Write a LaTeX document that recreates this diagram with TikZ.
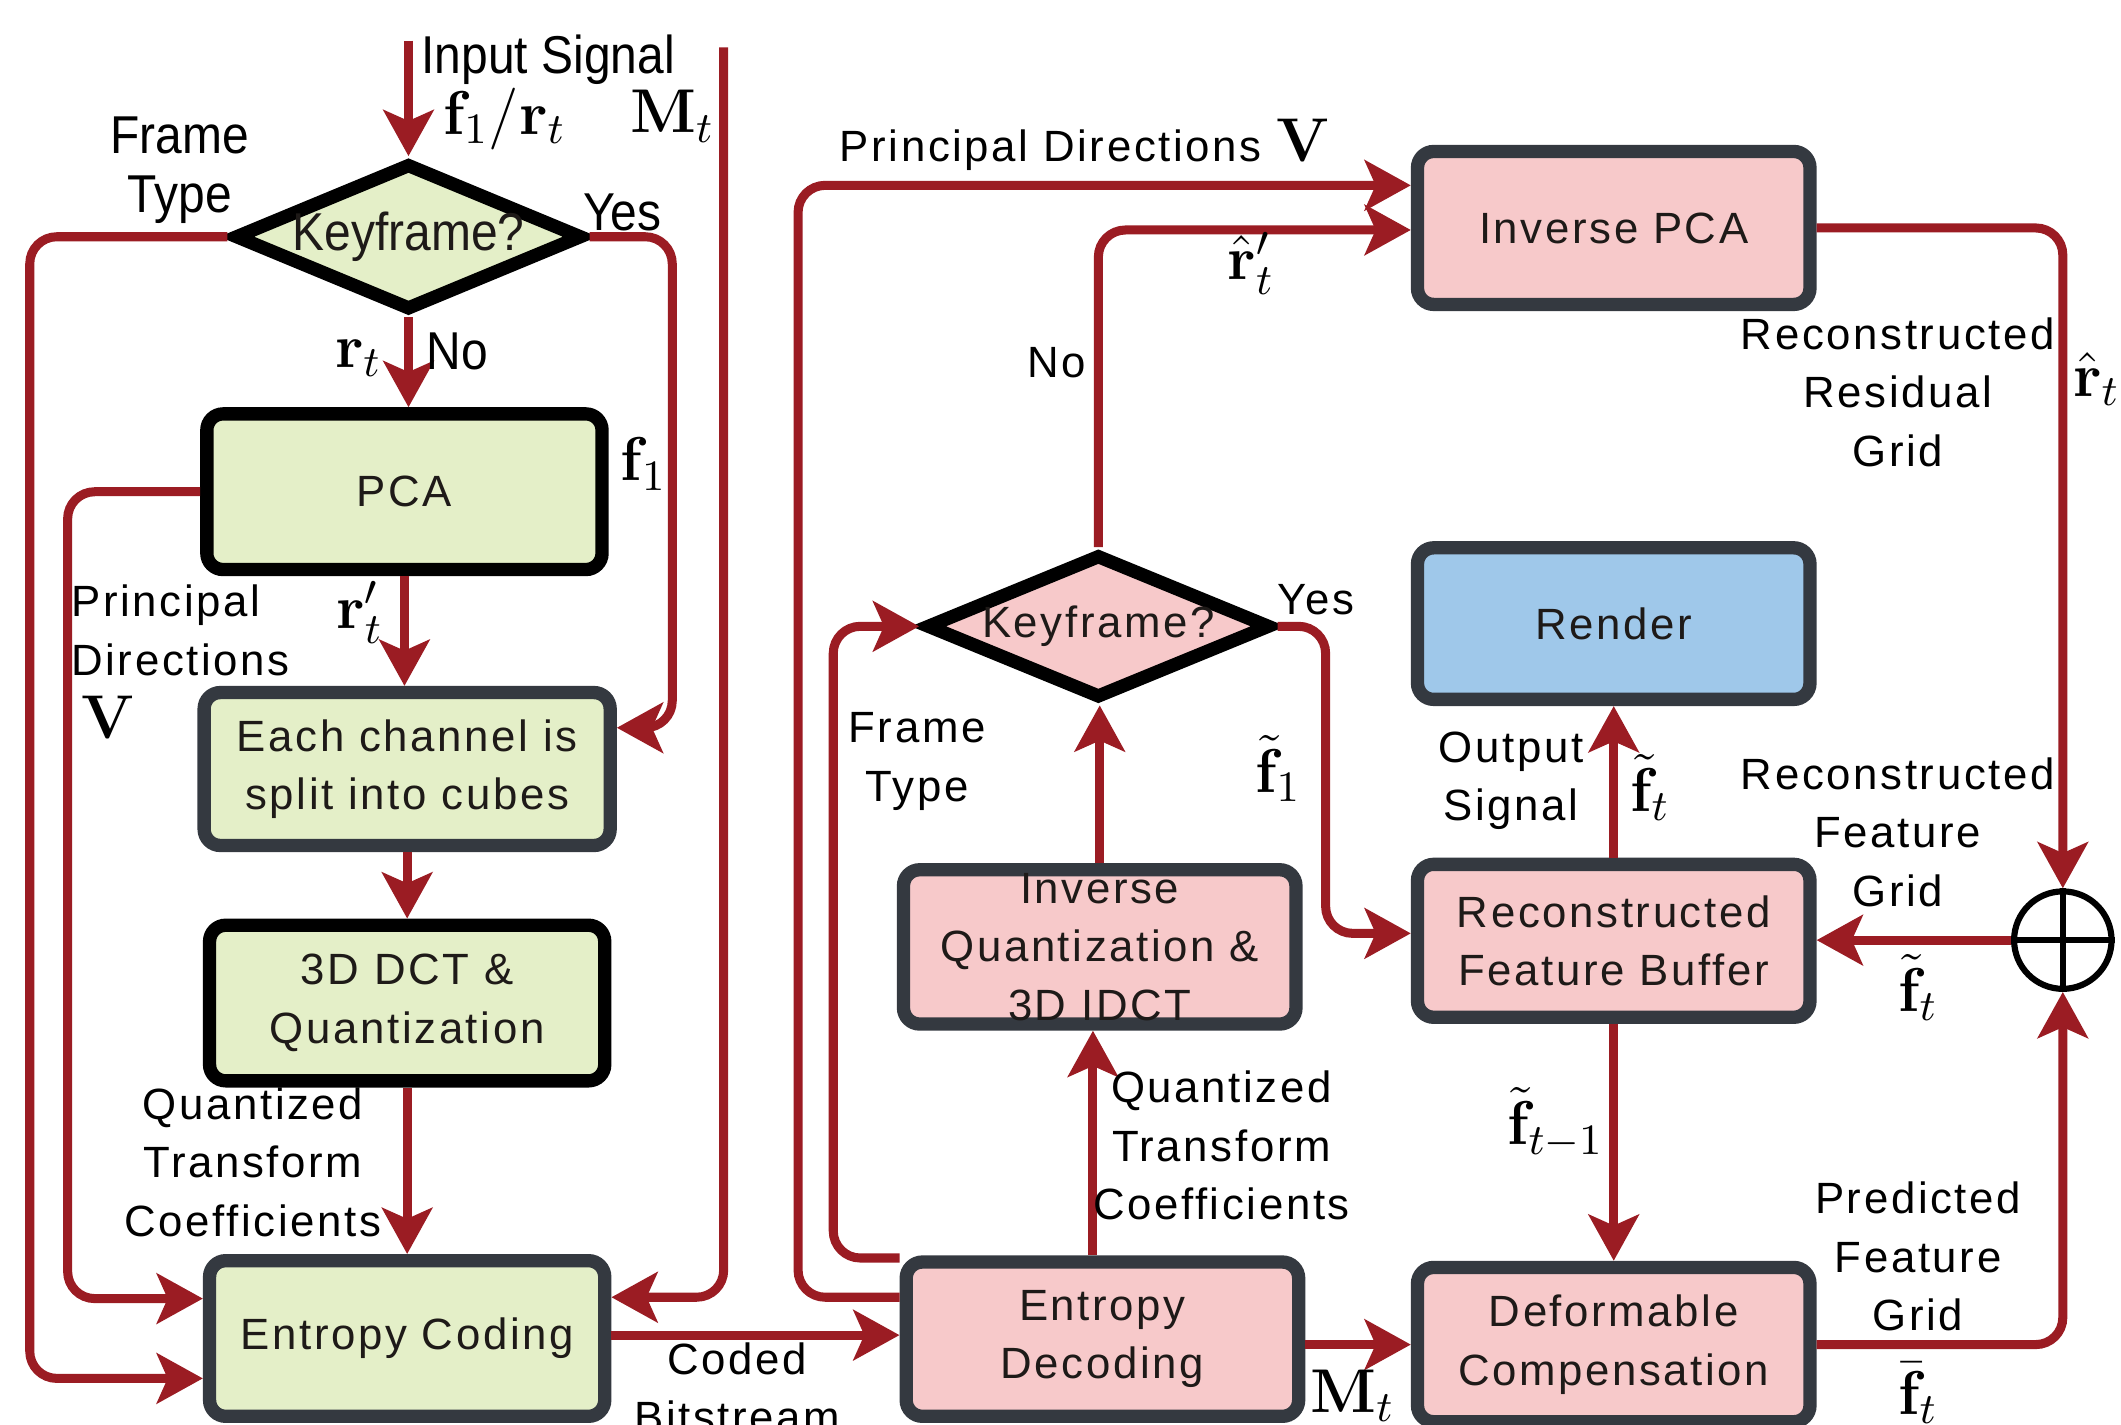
\RequirePackage{fix-cm}
\documentclass[tikz,border=0pt]{standalone}
\usepackage[no-math]{fontspec}
\usetikzlibrary{arrows.meta,shapes.geometric}
\newfontfamily\lblfont{Liberation Sans}[LetterSpace=6]
\newfontfamily\narrowfont{Liberation Sans}[FakeStretch=0.9]
\newcommand\bxf{\lblfont\fontsize{9.2}{12.3}\selectfont}
\newcommand\nrf{\narrowfont\fontsize{11.2}{12.5}\selectfont}
\newcommand\mathlbl{\fontsize{13}{15}\selectfont}
\definecolor{cred}{HTML}{9B1C23}
\definecolor{cgreen}{HTML}{E4EFC8}
\definecolor{cpink}{HTML}{F7C9CA}
\definecolor{cblue}{HTML}{9FC8EA}
\definecolor{cgray}{HTML}{343940}
\definecolor{ctext}{HTML}{1E1A18}
\tikzset{
  box/.style={rectangle, rounded corners=0.12cm, line width=2.8pt, minimum width=2.92cm,
    minimum height=1.15cm, align=center, font=\bxf, text=ctext, inner sep=0pt},
  gbox/.style={box, fill=cgreen, draw=cgray},
  kbox/.style={box, fill=cgreen, draw=black},
  pbox/.style={box, fill=cpink, draw=cgray},
  bbox/.style={box, fill=cblue, draw=cgray},
  dia/.style={diamond, draw=black, line width=2.8pt, inner sep=0pt, text=ctext},
  arr/.style={draw=cred, line width=1.9pt, rounded corners=0.2cm,
    -{Stealth[length=0.34cm,width=0.37cm,inset=0.08cm]}},
  lbl/.style={font=\bxf, align=center, inner sep=0pt, text=black},
  nlbl/.style={font=\nrf, align=center, inner sep=0pt, text=black},
  mlbl/.style={font=\mathlbl, inner sep=0pt, text=black},
}
\begin{document}
\begin{tikzpicture}[x=0.01cm,y=-0.01cm]
\path[use as bounding box] (0,0) rectangle (1568,1053);
\clip (0,0) rectangle (1568,1053);

% ---------------- encoder (left) ----------------
\node[dia, fill=cgreen, minimum width=2.5cm, minimum height=1.06cm, aspect=2.36, font=\nrf] (d1) at (302,175) {Keyframe?};
\node[kbox] (pca) at (299,363.5) {PCA};
\node[gbox, minimum width=3.0cm, minimum height=1.13cm] (split) at (301,568.5) {Each channel is\\split into cubes};
\node[kbox] (dct) at (301,741.5) {3D DCT \&\\Quantization};
\node[gbox] (ec) at (301,989.5) {Entropy Coding};

% ---------------- decoder (right) ----------------
\node[pbox, minimum width=2.9cm, minimum height=1.14cm] (ed) at (815,990) {Entropy\\Decoding};
\node[pbox, minimum width=2.9cm, minimum height=1.14cm] (iq) at (813,700) {Inverse\\Quantization \&\\3D IDCT};
\node[dia, fill=cpink, minimum width=2.55cm, minimum height=1.07cm, aspect=2.38, font=\bxf] (d2) at (812,463) {Keyframe?};
\node[pbox, minimum width=2.9cm, minimum height=1.13cm] (ipca) at (1193,168.5) {Inverse PCA};
\node[bbox, minimum width=2.9cm, minimum height=1.12cm] (render) at (1193,461) {Render};
\node[pbox, minimum width=2.9cm, minimum height=1.13cm] (rfb) at (1193,695.5) {Reconstructed\\Feature Buffer};
\node[pbox, minimum width=2.9cm, minimum height=1.14cm] (dc) at (1193,994) {Deformable\\Compensation};
\node[circle, draw=black, line width=1.3pt, minimum size=0.72cm, inner sep=0pt, fill=white] (sum) at (1525,695) {};
\draw[black, line width=1.3pt] (sum.north) -- (sum.south) (sum.west) -- (sum.east);

% ---------------- connectors: encoder ----------------
\coordinate (in) at (302,30);
\coordinate (mt) at (535,35);
\draw[arr] (in) -- (d1.north);
\draw[arr] (mt) -- (535,959) -- (ec.east |- 535,959);
\draw[arr] (d1.west) -| (22,1019) -- (ec.west |- 22,1019);
\draw[arr] (d1.east) -| (497,538) -- (split.east |- 497,538);
\draw[arr] (d1.south) -- (d1.south |- pca.north);
\draw[arr] (pca.west) -| (50,960) -- (ec.west |- 50,960);
\draw[arr] (pca.south) -- (pca.south |- split.north);
\draw[arr] (split.south) -- (split.south |- dct.north);
\draw[arr] (dct.south) -- (dct.south |- ec.north);
\draw[arr] (ec.east |- 460,987) -- (ed.west |- 460,987);

% ---------------- connectors: decoder ----------------
\draw[arr] (ed.west |- 616,930) -| (616,463) -- (d2.west);
\draw[arr] (ed.west |- 590,959) -| (590,137) -- (ipca.west |- 590,137);
\draw[arr] (d2.north) |- (ipca.west |- 812,170);
\draw[arr] (d2.east) -| (980,690) -- (rfb.west |- 980,690);
\draw[arr] (iq.north) -- (iq.north |- d2.south);
\coordinate (edt) at (808,928);
\draw[arr] (edt) -- (edt |- iq.south);
\draw[arr] (ed.east |- dc.west) -- (dc.west);
\draw[arr] (ipca.east) -| (sum.north);
\draw[arr] (sum.west) -- (sum.west -| rfb.east);
\draw[arr] (rfb.north) -- (rfb.north |- render.south);
\draw[arr] (rfb.south) -- (rfb.south |- dc.north);
\draw[arr] (dc.east) -| (sum.south);

% ---------------- labels: encoder ----------------
\node[nlbl, anchor=west] (lin) at (311,44) {Input Signal};
\node[mlbl] (lf1rt) at (373,88) {$\mathbf{f}_1/\mathbf{r}_t$};
\node[mlbl] (lmt1) at (497,86) {$\mathbf{M}_t$};
\node[nlbl] (lft1) at (133,126) {Frame\\Type};
\node[nlbl] (lyes1) at (460,157) {Yes};
\node[nlbl] (lno1) at (338,260) {No};
\node[mlbl] (lrt) at (265,265) {$\mathbf{r}_t$};
\node[mlbl] (lf1) at (476,343) {$\mathbf{f}_1$};
\node[lbl, align=left, anchor=west] (lpd1) at (52,466) {Principal\\Directions};
\node[mlbl] (lv1) at (80,530) {$\mathbf{V}$};
\node[mlbl] (lrpt) at (266,453) {$\mathbf{r}'_t$};
\node[lbl] (lqtc1) at (187,859) {Quantized\\Transform\\Coefficients};
\node[lbl] (lcb) at (545,1026) {Coded\\Bitstream};

% ---------------- labels: decoder ----------------
\node[lbl] (lpd2) at (802,107) {Principal Directions {\mathlbl$\mathbf{V}$}};
\node[mlbl] (lrhp) at (925,195) {$\hat{\mathbf{r}}'_t$};
\node[lbl] (lno2) at (781,268) {No};
\node[lbl] (lyes2) at (973,443) {Yes};
\node[lbl] (lft2) at (678,563) {Frame\\Type};
\node[mlbl] (lf1t) at (945,568) {$\tilde{\mathbf{f}}_1$};
\node[lbl] (lqtc2) at (903,847) {Quantized\\Transform\\Coefficients};
\node[mlbl] (lmt2) at (1000,1032) {$\mathbf{M}_t$};
\node[lbl] (lrrg) at (1403,290) {Reconstructed\\Residual\\Grid};
\node[mlbl] (lrh) at (1550,280) {$\hat{\mathbf{r}}_t$};
\node[lbl] (los) at (1117,577) {Output\\Signal};
\node[mlbl] (lft) at (1220,582) {$\tilde{\mathbf{f}}_t$};
\node[lbl] (lrfg) at (1403,615) {Reconstructed\\Feature\\Grid};
\node[mlbl] (lft3) at (1418,730) {$\tilde{\mathbf{f}}_t$};
\node[mlbl] (lftm1) at (1150,830) {$\tilde{\mathbf{f}}_{t-1}$};
\node[lbl] (lpfg) at (1418,929) {Predicted\\Feature\\Grid};
\node[mlbl] (lfbar) at (1418,1030) {$\bar{\mathbf{f}}_t$};
\end{tikzpicture}
\end{document}
